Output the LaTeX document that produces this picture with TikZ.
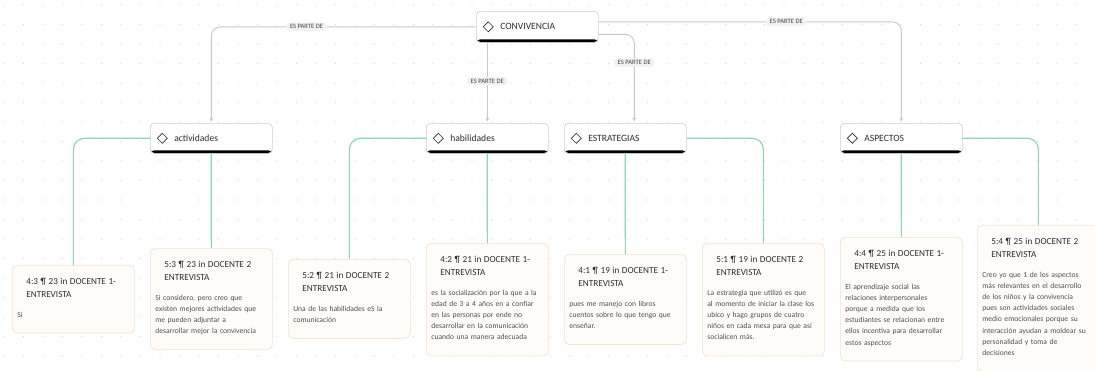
\documentclass[tikz,border=0pt]{standalone}
\usepackage{fontspec}
\setmainfont{Carlito}
\usetikzlibrary{arrows.meta}
\definecolor{griddot}{RGB}{212,212,212}
\definecolor{relgrey}{RGB}{200,200,200}
\definecolor{tagfill}{RGB}{241,241,241}
\definecolor{tagtext}{RGB}{70,70,70}
\definecolor{linkgreen}{RGB}{145,214,180}
\definecolor{conceptline}{RGB}{205,205,205}
\definecolor{codeline}{RGB}{251,224,198}
\definecolor{codefill}{RGB}{255,252,249}
\definecolor{titletext}{RGB}{45,45,45}
\definecolor{bodytext}{RGB}{80,80,80}
\newcommand{\cita}[3]{{\fontsize{9.2}{13}\selectfont\color{titletext}\hspace*{9pt}\rule{0pt}{9pt}#1\\\hspace*{9pt}#2\par}\vspace{8.5pt}#3\rule[-6pt]{0pt}{6pt}}

\begin{document}
\begin{tikzpicture}[x=1pt,y=-1pt,
  concept/.style={draw=conceptline, fill=white, line width=0.6pt, rounded corners=4pt, anchor=north west,
    minimum width=122pt, minimum height=30pt, text width=108pt, inner xsep=7pt, align=left,
    font=\fontsize{9.6}{11}\selectfont, text=titletext,
    path picture={
      \fill[black] (path picture bounding box.south west) rectangle ([yshift=3pt]path picture bounding box.south east);
      \draw[titletext, line width=0.7pt, sharp corners] ([xshift=12pt]path picture bounding box.west) +(-5,0) -- +(0,-5) -- +(5,0) -- +(0,5) -- cycle;
    }},
  code/.style={draw=codeline, fill=codefill, line width=0.7pt, rounded corners=5pt, anchor=north west,
    text width=112pt, inner xsep=5pt, inner ysep=10pt, align=left,
    font=\fontsize{7.6}{11.2}\selectfont, text=bodytext},
  rel/.style={draw=relgrey, line width=0.9pt, rounded corners=9pt, shorten >=1.5pt, -{Stealth[length=4pt,width=4pt]}},
  link/.style={draw=linkgreen, line width=1.2pt, rounded corners=11pt},
  tag/.style={fill=tagfill, rounded corners=4.5pt, inner xsep=4pt, inner ysep=2pt,
    font=\fontsize{6.6}{7}\selectfont, text=tagtext}]
\useasboundingbox (0,0) rectangle (1095,370);
\fill[white] (0,0) rectangle (1095,370);
\foreach \gx in {0,...,56}
  \foreach \gy in {0,...,19}
    \fill[griddot] ({4+19.5*\gx},{5+19.5*\gy}) circle (0.55pt);

\node[concept, minimum height=31pt] (conv) at (476,11) {\hspace*{17pt}CONVIVENCIA};
\node[concept] (act) at (150,123) {\hspace*{17pt}actividades};
\node[concept] (hab) at (426,123) {\hspace*{17pt}habilidades};
\node[concept] (estr) at (564,123) {\hspace*{17pt}ESTRATEGIAS};
\node[concept] (asp) at (840,123) {\hspace*{17pt}ASPECTOS};

\node[code] (c43) at (12,265) {\cita{4:3 ¶ 23 in DOCENTE 1-}{ENTREVISTA}{Sí}};
\node[code] (c53) at (150,248) {\cita{5:3 ¶ 23 in DOCENTE 2}{ENTREVISTA}{Si considero, pero creo que\\existen mejores actividades que\\me pueden adjuntar a\\desarrollar mejor la convivencia}};
\node[code] (c52) at (288,259) {\cita{5:2 ¶ 21 in DOCENTE 2}{ENTREVISTA}{Una de las habilidades eS la\\comunicación}};
\node[code] (c42) at (426,243) {\cita{4:2 ¶ 21 in DOCENTE 1-}{ENTREVISTA}{es la socialización por la que a la\\edad de 3 a 4 años en a confiar\\en las personas por ende no\\desarrollar en la comunicación\\cuando una manera adecuada}};
\node[code] (c41) at (564,254) {\cita{4:1 ¶ 19 in DOCENTE 1-}{ENTREVISTA}{pues me manejo con libros\\cuentos sobre lo que tengo que\\enseñar.}};
\node[code] (c51) at (702,243) {\cita{5:1 ¶ 19 in DOCENTE 2}{ENTREVISTA}{La estrategia que utilizó es que\\al momento de iniciar la clase los\\ubico y hago grupos de cuatro\\niños en cada mesa para que así\\socialicen más.}};
\node[code] (c44) at (840,237) {\cita{4:4 ¶ 25 in DOCENTE 1-}{ENTREVISTA}{El aprendizaje social las\\relaciones interpersonales\\porque a medida que los\\estudiantes se relacionan entre\\ellos incentiva para desarrollar\\estos aspectos}};
\node[code] (c54) at (977,225) {\cita{5:4 ¶ 25 in DOCENTE 2}{ENTREVISTA}{Creo yo que 1 de los aspectos\\más relevantes en el desarrollo\\de los niños y la convivencia\\pues son actividades sociales\\medio emocionales porque su\\interacción ayudan a moldear su\\personalidad y toma de\\decisiones}};

\draw[rel] (conv.west) -| node[tag, pos=0.32] {ES PARTE DE} (act.north);
\draw[rel] (conv.south -| hab.north) -- node[tag, pos=0.48] {ES PARTE DE} (hab.north);
\draw[rel] ([yshift=-7.5pt]conv.east) -| node[tag, pos=0.66] {ES PARTE DE} ([xshift=9pt]estr.north);
\draw[rel] ([yshift=5pt]conv.east) -| node[tag, pos=0.31] {ES PARTE DE} (asp.north);

\draw[link] (act.west) -| (c43.north);
\draw[link] (act.south) -- (c53.north);
\draw[link] (hab.west) -| (c52.north);
\draw[link] (hab.south) -- (c42.north);
\draw[link] (estr.south) -- (c41.north);
\draw[link] (estr.east) -| (c51.north);
\draw[link] (asp.south) -- (c44.north);
\draw[link] (asp.east) -| (c54.north);
\end{tikzpicture}
\end{document}
